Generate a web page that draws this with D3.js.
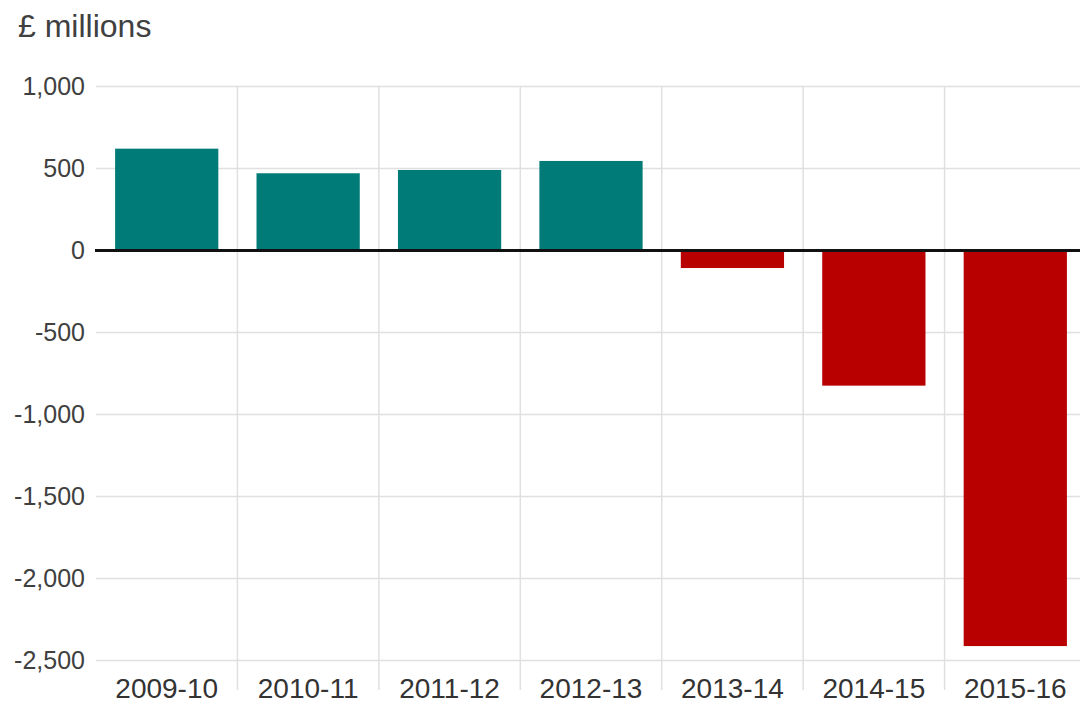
<!DOCTYPE html>
<html>
<head>
<meta charset="utf-8">
<script src="https://cdn.jsdelivr.net/npm/d3@7"></script>
<style>
  html, body { margin: 0; padding: 0; background: #fff; }
  svg { display: block; font-family: "Liberation Sans", Arial, Helvetica, sans-serif; }
  .tick-label { fill: #404040; font-size: 25px; }
  .x-label { fill: #333; font-size: 28px; }
  .title { fill: #404040; font-size: 32px; }
</style>
</head>
<body>
<div id="chart"></div>
<script>
  // Daten: Überschuss / Defizit je Jahr (£ Mio.)
  const YEARS = ["2009-10", "2010-11", "2011-12", "2012-13", "2013-14", "2014-15", "2015-16"];
  const VALUES = [621, 471, 491, 546, -107, -824, -2412];
  const Y_TICKS = [1000, 500, 0, -500, -1000, -1500, -2000, -2500];

  const W = 1080, H = 704;
  const POS_COLOR = "#007b78";
  const NEG_COLOR = "#b80000";
  const GRID = "#e0e0e0";

  const svg = d3.select("#chart").append("svg")
    .attr("width", W)
    .attr("height", H);

  const x = d3.scaleBand()
    .domain(YEARS)
    .range([96, 1086])
    .paddingInner(0.27)
    .paddingOuter(0.135);

  const y = d3.scaleLinear()
    .domain([-2500, 1000])
    .range([660.5, 86.5]);

  // normaler Bindestrich statt Unicode-Minus wie im Original
  const fmt = v => d3.format(",")(v).replace("\u2212", "-");

  // Titel
  svg.append("text")
    .attr("class", "title")
    .attr("x", 18)
    .attr("y", 37)
    .text("£ millions");

  // horizontale Gitterlinien + Beschriftung
  svg.append("g")
    .selectAll("line")
    .data(Y_TICKS)
    .join("line")
    .attr("x1", 96)
    .attr("x2", W)
    .attr("y1", d => y(d))
    .attr("y2", d => y(d))
    .attr("stroke", GRID)
    .attr("stroke-width", 1.5);

  svg.append("g")
    .selectAll("text")
    .data(Y_TICKS)
    .join("text")
    .attr("class", "tick-label")
    .attr("x", 85)
    .attr("y", d => y(d))
    .attr("dy", "0.35em")
    .attr("text-anchor", "end")
    .text(d => fmt(d));

  // vertikale Trennlinien zwischen den Jahren
  const step = x.step();
  const gap = step * x.paddingInner();
  svg.append("g")
    .selectAll("line")
    .data(YEARS.slice(1))
    .join("line")
    .attr("x1", d => x(d) - gap / 2)
    .attr("x2", d => x(d) - gap / 2)
    .attr("y1", y(1000))
    .attr("y2", 690)
    .attr("stroke", GRID)
    .attr("stroke-width", 1.5);

  // Balken
  svg.append("g")
    .selectAll("rect")
    .data(YEARS)
    .join("rect")
    .attr("x", d => x(d))
    .attr("width", x.bandwidth())
    .attr("y", (d, i) => y(Math.max(0, VALUES[i])))
    .attr("height", (d, i) => Math.abs(y(VALUES[i]) - y(0)))
    .attr("fill", (d, i) => VALUES[i] >= 0 ? POS_COLOR : NEG_COLOR);

  // Nulllinie
  svg.append("line")
    .attr("x1", 95)
    .attr("x2", W)
    .attr("y1", y(0))
    .attr("y2", y(0))
    .attr("stroke", "#111")
    .attr("stroke-width", 3);

  // x-Beschriftung
  svg.append("g")
    .selectAll("text")
    .data(YEARS)
    .join("text")
    .attr("class", "x-label")
    .attr("x", d => x(d) + x.bandwidth() / 2)
    .attr("y", 698)
    .attr("text-anchor", "middle")
    .text(d => d);
</script>
</body>
</html>
